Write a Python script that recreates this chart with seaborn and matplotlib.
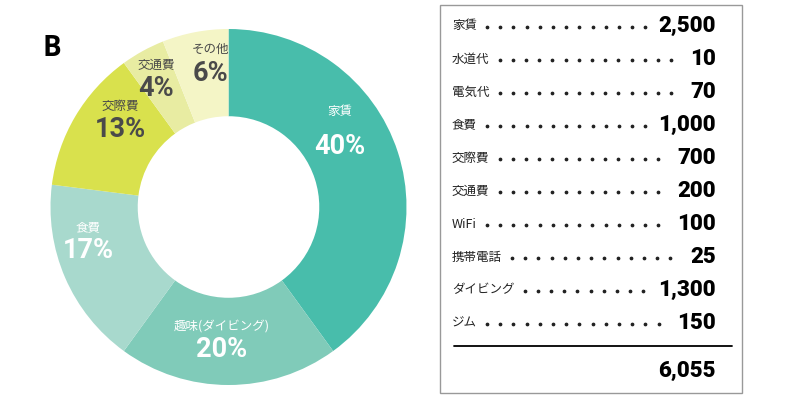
import matplotlib
matplotlib.use("Agg")
import matplotlib.pyplot as plt
import numpy as np
import seaborn as sns

# donut data (clockwise from 12 o'clock)
slice_names = ["家賃", "趣味(ダイビング)", "食費", "交際費", "交通費", "その他"]
slice_pct = [40, 20, 17, 13, 4, 6]
slice_colors = ["#48bdab", "#80cbb9", "#a8d9cd", "#d9e14d", "#e8eca2", "#f4f5c6"]

# expense table
items = ["家賃", "水道代", "電気代", "食費", "交際費", "交通費",
         "WiFi", "携帯電話", "ダイビング", "ジム"]
amounts = [2500, 10, 70, 1000, 700, 200, 100, 25, 1300, 150]

sns.set_theme(style="white")
plt.rcParams["font.family"] = ["Noto Sans CJK JP", "DejaVu Sans"]

fig = plt.figure(figsize=(8, 4), dpi=100)
fig.patch.set_facecolor("white")

# donut
ax = fig.add_axes([50.5 / 800, 15 / 400, 356 / 800, 356 / 400])
ax.pie(slice_pct, colors=slice_colors, startangle=90, counterclock=False,
       radius=1, wedgeprops=dict(width=0.49, edgecolor="none"))
ax.set_xlim(-1, 1)
ax.set_ylim(-1, 1)
ax.set_aspect("equal")
ax.axis("off")

label_pos = [(0.626, 0.535, 0.34), (-0.037, -0.67, -0.80), (-0.79, -0.115, -0.245),
             (-0.61, 0.565, 0.435), (-0.405, 0.795, 0.665), (-0.10, 0.885, 0.75)]
text_cols = ["white", "white", "white", "#4a4a4a", "#4a4a4a", "#4a4a4a"]
for name, pct, (x, y1, y2), c in zip(slice_names, slice_pct, label_pos, text_cols):
    ax.text(x, y1, name, ha="center", va="center", fontsize=9, color=c)
    ax.text(x, y2, f"{pct}%", ha="center", va="center", fontsize=19.5,
            fontweight="bold", color=c, family=["Roboto", "DejaVu Sans"])

fig.text(52 / 800, 1 - 48 / 400, "B", fontsize=20, fontweight="bold",
         ha="center", va="center", color="black", family=["Open Sans", "DejaVu Sans"])

# table box
tx = fig.add_axes([0, 0, 1, 1])
tx.set_xlim(0, 800)
tx.set_ylim(400, 0)
tx.axis("off")
tx.patch.set_alpha(0)
tx.add_patch(plt.Rectangle((440, 5), 302, 388, fill=False, edgecolor="#999999", lw=1))

row_y = 26 + np.arange(len(items)) * 33
rows = []
for name, amt, y in zip(items, amounts, row_y):
    t1 = tx.text(452, y, name, ha="left", va="center", fontsize=9, color="#222222",
                 family=["Noto Sans CJK JP", "DejaVu Serif"])
    t2 = tx.text(716, y, f"{amt:,}", ha="right", va="center", fontsize=16,
                 fontweight="black", color="black", family=["Roboto", "DejaVu Sans"])
    rows.append((t1, t2, y))

# dotted leaders between each label and its amount
fig.canvas.draw()
r = fig.canvas.get_renderer()
for t1, t2, y in rows:
    x0 = t1.get_window_extent(r).x1 + 10
    x1 = t2.get_window_extent(r).x0 - 8
    dots = np.arange(x0, x1, 13.2)
    tx.plot(dots, np.full_like(dots, y + 1), "o", ms=1.7, color="#222222")

tx.plot([454, 732], [346, 346], color="black", lw=1.3)
tx.text(716, 371, f"{sum(amounts):,}", ha="right", va="center", fontsize=16,
        fontweight="black", color="black", family=["Roboto", "DejaVu Sans"])

fig.savefig("out.png", dpi=100)
